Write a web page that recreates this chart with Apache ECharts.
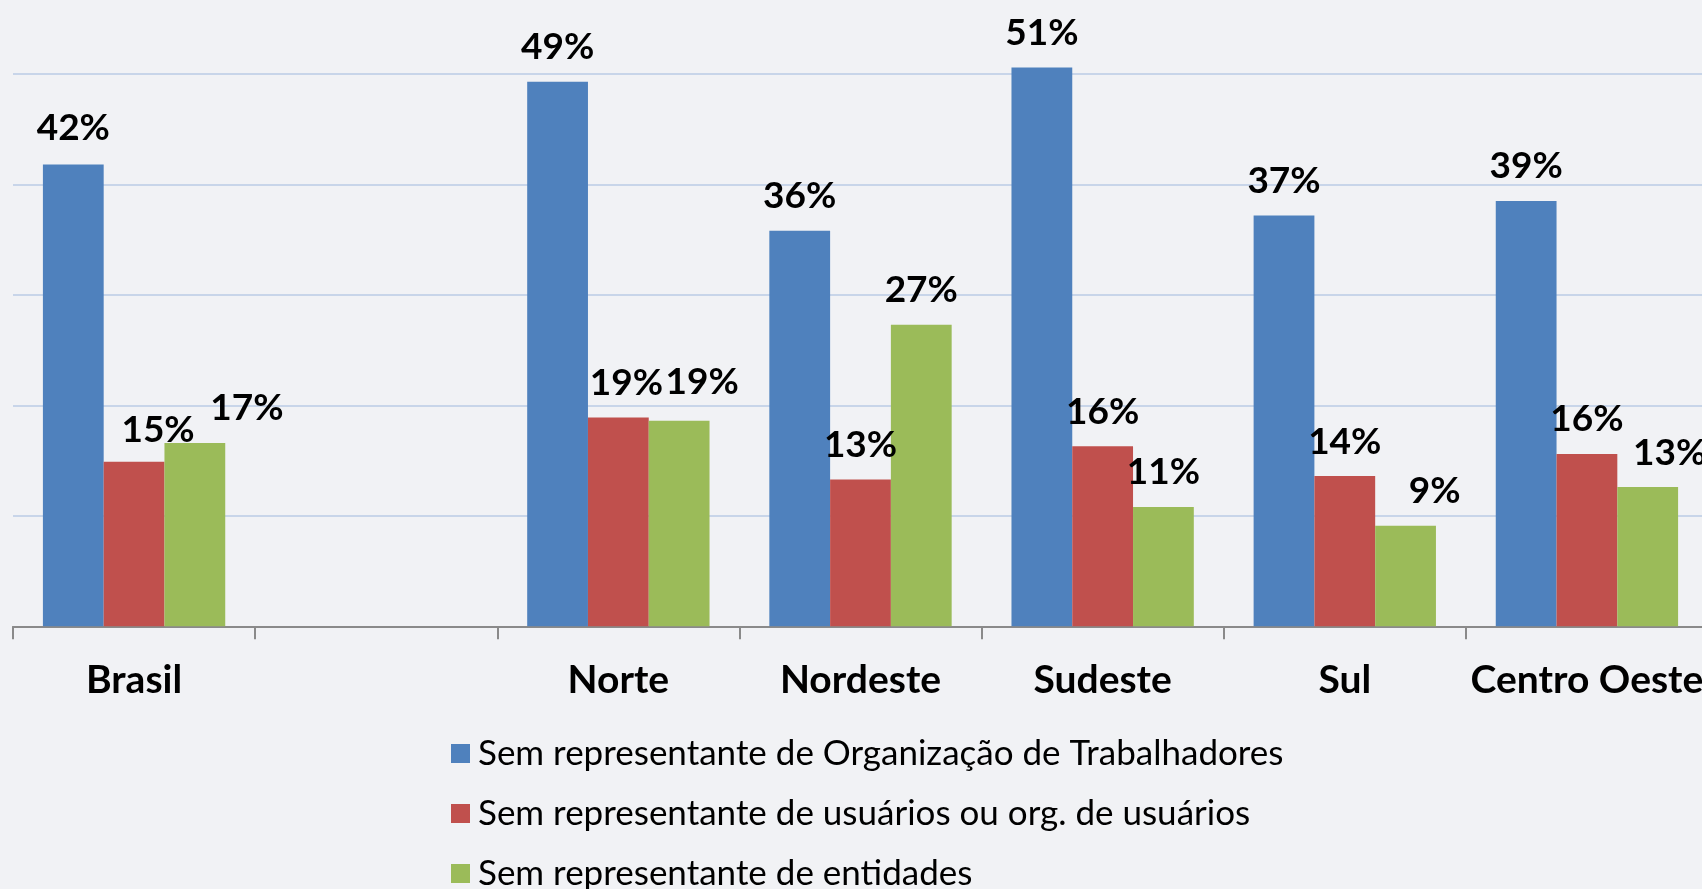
<!DOCTYPE html>
<html>
<head>
<meta charset="utf-8">
<script src="https://cdn.jsdelivr.net/npm/echarts@6/dist/echarts.min.js"></script>
<style>
  html, body { margin: 0; padding: 0; background: #f1f2f5; }
  #chart { width: 1702px; height: 889px; }
</style>
</head>
<body>
<div id="chart"></div>
<script>
// categorias (a segunda fica vazia, como no original)
const regioes = ['Brasil', '', 'Norte', 'Nordeste', 'Sudeste', 'Sul', 'Centro Oeste'];
// percentuais
const semTrabalhadores = [41.8, null, 49.3, 35.8, 50.6, 37.2, 38.5];
const semUsuarios = [14.9, null, 18.9, 13.3, 16.3, 13.6, 15.6];
const semEntidades = [16.6, null, 18.6, 27.3, 10.8, 9.1, 12.6];
const nomesSeries = [
  'Sem representante de Organização de Trabalhadores',
  'Sem representante de usuários ou org. de usuários',
  'Sem representante de entidades'
];

// deslocamento manual de alguns rótulos (índice da série -> índice da categoria)
const deslocRotulo = {
  0: {0: [0, -2]},
  1: {0: [24, 3], 2: [8, 0]},
  2: {0: [52, 0], 2: [23, -4], 5: [29, 0], 6: [22, 0]}
};

const cores = ['#4f81bd', '#c0504d', '#9bbb59'];
const fonte = 'Lato, "Open Sans", sans-serif';

const montaDados = (valores, s) => valores.map((v, i) => {
  const d = deslocRotulo[s] && deslocRotulo[s][i];
  return d ? {value: v, label: {offset: d}} : v;
});

const chart = echarts.init(document.getElementById('chart'));
const option = {
  backgroundColor: '#f1f2f5',
  animation: false,
  // o gráfico passa um pouco da borda direita, como no original
  grid: {left: 13, top: 0, width: 1695, height: 626.3, containLabel: false, outerBoundsMode: 'none'},
  legend: {
    orient: 'vertical',
    left: 446,
    top: 731,
    height: 300,
    itemWidth: 19,
    itemHeight: 19,
    itemGap: 25,
    icon: 'rect',
    textStyle: {fontFamily: fonte, fontSize: 35, color: '#000', padding: [0, 0, 0, 3]},
    data: nomesSeries
  },
  xAxis: {
    type: 'category',
    data: regioes,
    axisLine: {lineStyle: {color: '#8a8a8a', width: 2}},
    axisTick: {show: true, length: 13, lineStyle: {color: '#8a8a8a', width: 2}},
    axisLabel: {
      interval: 0,
      margin: 35,
      color: '#000',
      fontFamily: fonte,
      fontWeight: 'bold',
      fontSize: 39
    }
  },
  yAxis: {
    type: 'value',
    min: 0,
    max: 56.7,
    interval: 10,
    axisLabel: {show: false},
    axisLine: {show: false},
    axisTick: {show: false},
    splitLine: {showMaxLine: false, lineStyle: {color: '#c8d5e9', width: 2}}
  },
  series: [semTrabalhadores, semUsuarios, semEntidades].map((vals, s) => ({
    name: nomesSeries[s],
    type: 'bar',
    data: montaDados(vals, s),
    barGap: '0%',
    barCategoryGap: '24.7%',
    itemStyle: {color: cores[s]},
    label: {
      show: true,
      position: 'top',
      distance: 16,
      color: '#000',
      fontFamily: fonte,
      fontWeight: 'bold',
      fontSize: 37,
      formatter: p => Math.round(p.value) + '%'
    }
  }))
};
chart.setOption(option);
</script>
</body>
</html>
